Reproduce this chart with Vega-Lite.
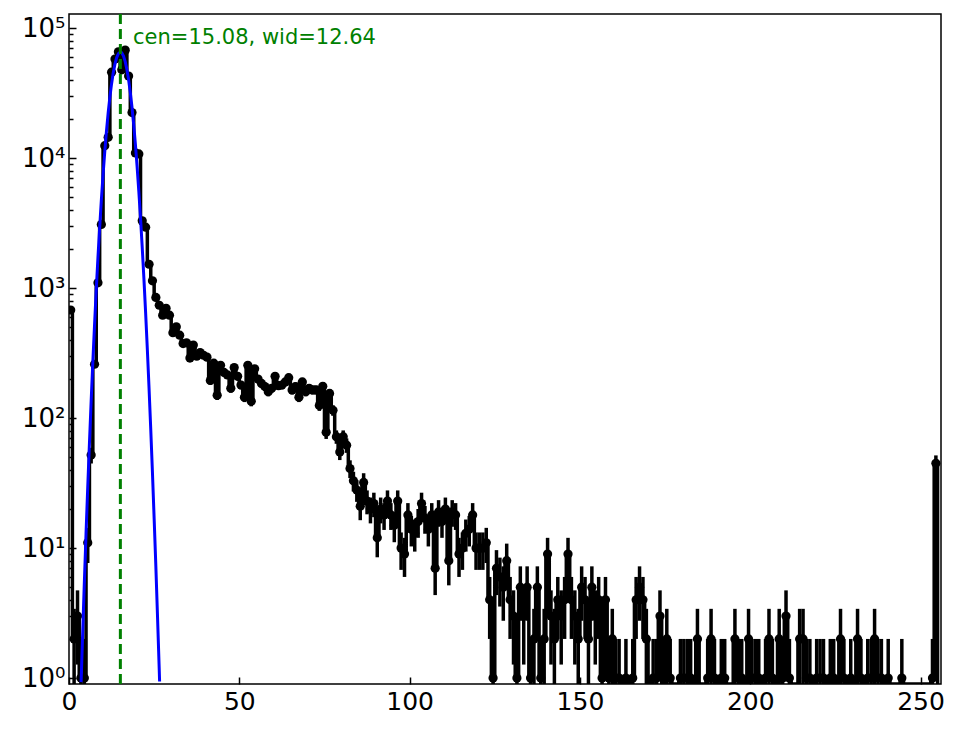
{
  "$schema": "https://vega.github.io/schema/vega-lite/v6.json",
  "width": 872,
  "height": 670,
  "autosize": {"type": "none"},
  "padding": {"left": 69, "top": 14, "right": 23, "bottom": 45},
  "background": "white",
  "datasets": {
    "hist": [
      {"x":0.5,"n":680,"lo":654,"hi":706},{"x":1.5,"n":2,"lo":0.59,"hi":3.41},{"x":2.5,"n":3,"lo":1.27,"hi":4.73},{"x":3.5,"n":1,"lo":0,"hi":2},
      {"x":4.5,"n":1,"lo":0,"hi":2},{"x":5.5,"n":11,"lo":7.68,"hi":14.32},{"x":6.5,"n":52,"lo":44.8,"hi":59.2},{"x":7.5,"n":260,"lo":244,"hi":276},
      {"x":8.5,"n":1100,"lo":1067,"hi":1133},{"x":9.5,"n":3100,"lo":3044,"hi":3156},{"x":10.5,"n":12500,"lo":12388,"hi":12612},{"x":11.5,"n":14500,"lo":14380,"hi":14620},
      {"x":12.5,"n":46000,"lo":45786,"hi":46214},{"x":13.5,"n":58000,"lo":57759,"hi":58241},{"x":14.5,"n":66000,"lo":65743,"hi":66257},{"x":15.5,"n":48000,"lo":47781,"hi":48219},
      {"x":16.5,"n":68000,"lo":67739,"hi":68261},{"x":17.5,"n":43000,"lo":42793,"hi":43207},{"x":18.5,"n":22500,"lo":22350,"hi":22650},{"x":19.5,"n":11000,"lo":10895,"hi":11105},
      {"x":20.5,"n":10800,"lo":10696,"hi":10904},{"x":21.5,"n":3300,"lo":3243,"hi":3357},{"x":22.5,"n":2950,"lo":2896,"hi":3004},{"x":23.5,"n":1530,"lo":1491,"hi":1569},
      {"x":24.5,"n":1140,"lo":1106,"hi":1174},{"x":25.5,"n":850,"lo":821,"hi":879},{"x":26.5,"n":740,"lo":713,"hi":767},{"x":27.5,"n":620,"lo":595,"hi":645},
      {"x":28.5,"n":700,"lo":674,"hi":726},{"x":29.5,"n":620,"lo":595,"hi":645},{"x":30.5,"n":455,"lo":434,"hi":476},{"x":31.5,"n":505,"lo":483,"hi":528},
      {"x":32.5,"n":435,"lo":414,"hi":456},{"x":33.5,"n":375,"lo":356,"hi":394},{"x":34.5,"n":380,"lo":361,"hi":400},{"x":35.5,"n":290,"lo":273,"hi":307},
      {"x":36.5,"n":365,"lo":346,"hi":384},{"x":37.5,"n":300,"lo":283,"hi":317},{"x":38.5,"n":320,"lo":302,"hi":338},{"x":39.5,"n":305,"lo":288,"hi":322},
      {"x":40.5,"n":295,"lo":278,"hi":312},{"x":41.5,"n":195,"lo":181,"hi":209},{"x":42.5,"n":265,"lo":249,"hi":281},{"x":43.5,"n":150,"lo":138,"hi":162},
      {"x":44.5,"n":255,"lo":239,"hi":271},{"x":45.5,"n":225,"lo":210,"hi":240},{"x":46.5,"n":215,"lo":200,"hi":230},{"x":47.5,"n":170,"lo":157,"hi":183},
      {"x":48.5,"n":245,"lo":229,"hi":261},{"x":49.5,"n":210,"lo":195.5,"hi":224.5},{"x":50.5,"n":180,"lo":166.6,"hi":193.4},{"x":51.5,"n":145,"lo":133,"hi":157},
      {"x":52.5,"n":255,"lo":239,"hi":271},{"x":53.5,"n":135,"lo":123.4,"hi":146.6},{"x":54.5,"n":240,"lo":224.5,"hi":255.5},{"x":55.5,"n":200,"lo":185.9,"hi":214.1},
      {"x":56.5,"n":185,"lo":171.4,"hi":198.6},{"x":57.5,"n":175,"lo":161.8,"hi":188.2},{"x":58.5,"n":160,"lo":147.4,"hi":172.6},{"x":59.5,"n":170,"lo":157,"hi":183},
      {"x":60.5,"n":210,"lo":195.5,"hi":224.5},{"x":61.5,"n":178,"lo":164.7,"hi":191.3},{"x":62.5,"n":180,"lo":166.6,"hi":193.4},{"x":63.5,"n":190,"lo":176.2,"hi":203.8},
      {"x":64.5,"n":205,"lo":190.7,"hi":219.3},{"x":65.5,"n":165,"lo":152.2,"hi":177.8},{"x":66.5,"n":175,"lo":161.8,"hi":188.2},{"x":67.5,"n":145,"lo":133,"hi":157},
      {"x":68.5,"n":190,"lo":176.2,"hi":203.8},{"x":69.5,"n":160,"lo":147.4,"hi":172.6},{"x":70.5,"n":170,"lo":157,"hi":183},{"x":71.5,"n":165,"lo":152.2,"hi":177.8},
      {"x":72.5,"n":165,"lo":152.2,"hi":177.8},{"x":73.5,"n":125,"lo":113.8,"hi":136.2},{"x":74.5,"n":176,"lo":162.7,"hi":189.3},{"x":75.5,"n":78,"lo":69.2,"hi":86.8},
      {"x":76.5,"n":155,"lo":142.6,"hi":167.4},{"x":77.5,"n":115,"lo":104.3,"hi":125.7},{"x":78.5,"n":72,"lo":63.5,"hi":80.5},{"x":79.5,"n":55,"lo":47.6,"hi":62.4},
      {"x":80.5,"n":72,"lo":63.5,"hi":80.5},{"x":81.5,"n":62,"lo":54.1,"hi":69.9},{"x":82.5,"n":41,"lo":34.6,"hi":47.4},{"x":83.5,"n":33,"lo":27.3,"hi":38.7},
      {"x":84.5,"n":28,"lo":22.7,"hi":33.3},{"x":85.5,"n":21,"lo":16.4,"hi":25.6},{"x":86.5,"n":32,"lo":26.3,"hi":37.7},{"x":87.5,"n":23,"lo":18.2,"hi":27.8},
      {"x":88.5,"n":20,"lo":15.5,"hi":24.5},{"x":89.5,"n":22,"lo":17.3,"hi":26.7},{"x":90.5,"n":12,"lo":8.5,"hi":15.5},{"x":91.5,"n":20,"lo":15.5,"hi":24.5},
      {"x":92.5,"n":18,"lo":13.8,"hi":22.2},{"x":93.5,"n":23,"lo":18.2,"hi":27.8},{"x":94.5,"n":18,"lo":13.8,"hi":22.2},{"x":95.5,"n":15,"lo":11.1,"hi":18.9},
      {"x":96.5,"n":23,"lo":18.2,"hi":27.8},{"x":97.5,"n":10,"lo":6.8,"hi":13.2},{"x":98.5,"n":9,"lo":6,"hi":12},{"x":99.5,"n":18,"lo":13.8,"hi":22.2},
      {"x":100.5,"n":14,"lo":10.3,"hi":17.7},{"x":101.5,"n":13,"lo":9.4,"hi":16.6},{"x":102.5,"n":16,"lo":12,"hi":20},{"x":103.5,"n":22,"lo":17.3,"hi":26.7},
      {"x":104.5,"n":17,"lo":12.9,"hi":21.1},{"x":105.5,"n":14,"lo":10.3,"hi":17.7},{"x":106.5,"n":18,"lo":13.8,"hi":22.2},{"x":107.5,"n":7,"lo":4.35,"hi":9.65},
      {"x":108.5,"n":19,"lo":14.6,"hi":23.4},{"x":109.5,"n":16,"lo":12,"hi":20},{"x":110.5,"n":20,"lo":15.5,"hi":24.5},{"x":111.5,"n":8,"lo":5.17,"hi":10.83},
      {"x":112.5,"n":19,"lo":14.6,"hi":23.4},{"x":113.5,"n":18,"lo":13.8,"hi":22.2},{"x":114.5,"n":9,"lo":6,"hi":12},{"x":115.5,"n":10,"lo":6.8,"hi":13.2},
      {"x":116.5,"n":13,"lo":9.4,"hi":16.6},{"x":117.5,"n":14,"lo":10.3,"hi":17.7},{"x":118.5,"n":18,"lo":13.8,"hi":22.2},{"x":119.5,"n":10,"lo":6.8,"hi":13.2},
      {"x":120.5,"n":10,"lo":6.8,"hi":13.2},{"x":121.5,"n":10,"lo":6.8,"hi":13.2},{"x":122.5,"n":11,"lo":7.68,"hi":14.32},{"x":123.5,"n":4,"lo":2,"hi":6},
      {"x":124.5,"n":1,"lo":0,"hi":2},{"x":125.5,"n":7,"lo":4.35,"hi":9.65},{"x":126.5,"n":6,"lo":3.55,"hi":8.45},{"x":127.5,"n":5,"lo":2.76,"hi":7.24},
      {"x":128.5,"n":8,"lo":5.17,"hi":10.83},{"x":129.5,"n":4,"lo":2,"hi":6},{"x":130.5,"n":3,"lo":1.27,"hi":4.73},{"x":131.5,"n":1,"lo":0,"hi":2},
      {"x":132.5,"n":5,"lo":2.76,"hi":7.24},{"x":133.5,"n":3,"lo":1.27,"hi":4.73},{"x":134.5,"n":5,"lo":2.76,"hi":7.24},{"x":135.5,"n":1,"lo":0,"hi":2},
      {"x":136.5,"n":2,"lo":0.59,"hi":3.41},{"x":137.5,"n":5,"lo":2.76,"hi":7.24},{"x":138.5,"n":1,"lo":0,"hi":2},{"x":139.5,"n":2,"lo":0.59,"hi":3.41},
      {"x":140.5,"n":9,"lo":6,"hi":12},{"x":141.5,"n":3,"lo":1.27,"hi":4.73},{"x":142.5,"n":2,"lo":0.59,"hi":3.41},{"x":143.5,"n":4,"lo":2,"hi":6},
      {"x":144.5,"n":3,"lo":1.27,"hi":4.73},{"x":145.5,"n":4,"lo":2,"hi":6},{"x":146.5,"n":9,"lo":6,"hi":12},{"x":147.5,"n":4,"lo":2,"hi":6},
      {"x":148.5,"n":3,"lo":1.27,"hi":4.73},{"x":149.5,"n":2,"lo":0.59,"hi":3.41},{"x":150.5,"n":5,"lo":2.76,"hi":7.24},{"x":151.5,"n":4,"lo":2,"hi":6},
      {"x":152.5,"n":2,"lo":0.59,"hi":3.41},{"x":153.5,"n":5,"lo":2.76,"hi":7.24},{"x":154.5,"n":3,"lo":1.27,"hi":4.73},{"x":155.5,"n":4,"lo":2,"hi":6},
      {"x":156.5,"n":1,"lo":0,"hi":2},{"x":157.5,"n":4,"lo":2,"hi":6},{"x":158.5,"n":1,"lo":0,"hi":2},{"x":159.5,"n":2,"lo":0.59,"hi":3.41},
      {"x":160.5,"n":1,"lo":0,"hi":2},{"x":161.5,"n":1,"lo":0,"hi":2},{"x":162.5,"n":0},{"x":163.5,"n":1,"lo":0,"hi":2},
      {"x":164.5,"n":0},{"x":165.5,"n":1,"lo":0,"hi":2},{"x":166.5,"n":4,"lo":2,"hi":6},{"x":167.5,"n":5,"lo":2.76,"hi":7.24},
      {"x":168.5,"n":4,"lo":2,"hi":6},{"x":169.5,"n":2,"lo":0.59,"hi":3.41},{"x":170.5,"n":0},{"x":171.5,"n":1,"lo":0,"hi":2},
      {"x":172.5,"n":1,"lo":0,"hi":2},{"x":173.5,"n":3,"lo":1.27,"hi":4.73},{"x":174.5,"n":0},{"x":175.5,"n":2,"lo":0.59,"hi":3.41},
      {"x":176.5,"n":1,"lo":0,"hi":2},{"x":177.5,"n":0},{"x":178.5,"n":0},{"x":179.5,"n":1,"lo":0,"hi":2},
      {"x":180.5,"n":1,"lo":0,"hi":2},{"x":181.5,"n":1,"lo":0,"hi":2},{"x":182.5,"n":1,"lo":0,"hi":2},{"x":183.5,"n":0},
      {"x":184.5,"n":2,"lo":0.59,"hi":3.41},{"x":185.5,"n":0},{"x":186.5,"n":0},{"x":187.5,"n":1,"lo":0,"hi":2},
      {"x":188.5,"n":2,"lo":0.59,"hi":3.41},{"x":189.5,"n":1,"lo":0,"hi":2},{"x":190.5,"n":0},{"x":191.5,"n":1,"lo":0,"hi":2},
      {"x":192.5,"n":1,"lo":0,"hi":2},{"x":193.5,"n":0},{"x":194.5,"n":0},{"x":195.5,"n":2,"lo":0.59,"hi":3.41},
      {"x":196.5,"n":1,"lo":0,"hi":2},{"x":197.5,"n":1,"lo":0,"hi":2},{"x":198.5,"n":0},{"x":199.5,"n":2,"lo":0.59,"hi":3.41},
      {"x":200.5,"n":1,"lo":0,"hi":2},{"x":201.5,"n":1,"lo":0,"hi":2},{"x":202.5,"n":1,"lo":0,"hi":2},{"x":203.5,"n":0},
      {"x":204.5,"n":1,"lo":0,"hi":2},{"x":205.5,"n":2,"lo":0.59,"hi":3.41},{"x":206.5,"n":1,"lo":0,"hi":2},{"x":207.5,"n":0},
      {"x":208.5,"n":2,"lo":0.59,"hi":3.41},{"x":209.5,"n":1,"lo":0,"hi":2},{"x":210.5,"n":3,"lo":1.27,"hi":4.73},{"x":211.5,"n":1,"lo":0,"hi":2},
      {"x":212.5,"n":0},{"x":213.5,"n":0},{"x":214.5,"n":2,"lo":0.59,"hi":3.41},{"x":215.5,"n":2,"lo":0.59,"hi":3.41},
      {"x":216.5,"n":1,"lo":0,"hi":2},{"x":217.5,"n":1,"lo":0,"hi":2},{"x":218.5,"n":0},{"x":219.5,"n":1,"lo":0,"hi":2},
      {"x":220.5,"n":1,"lo":0,"hi":2},{"x":221.5,"n":1,"lo":0,"hi":2},{"x":222.5,"n":0},{"x":223.5,"n":1,"lo":0,"hi":2},
      {"x":224.5,"n":1,"lo":0,"hi":2},{"x":225.5,"n":0},{"x":226.5,"n":2,"lo":0.59,"hi":3.41},{"x":227.5,"n":1,"lo":0,"hi":2},
      {"x":228.5,"n":0},{"x":229.5,"n":1,"lo":0,"hi":2},{"x":230.5,"n":0},{"x":231.5,"n":2,"lo":0.59,"hi":3.41},
      {"x":232.5,"n":1,"lo":0,"hi":2},{"x":233.5,"n":0},{"x":234.5,"n":1,"lo":0,"hi":2},{"x":235.5,"n":1,"lo":0,"hi":2},
      {"x":236.5,"n":2,"lo":0.59,"hi":3.41},{"x":237.5,"n":1,"lo":0,"hi":2},{"x":238.5,"n":1,"lo":0,"hi":2},{"x":239.5,"n":0},
      {"x":240.5,"n":1,"lo":0,"hi":2},{"x":241.5,"n":0},{"x":242.5,"n":0},{"x":243.5,"n":0},
      {"x":244.5,"n":1,"lo":0,"hi":2},{"x":245.5,"n":0},{"x":246.5,"n":0},{"x":247.5,"n":0},
      {"x":248.5,"n":0},{"x":249.5,"n":0},{"x":250.5,"n":0},{"x":251.5,"n":0},
      {"x":252.5,"n":0},{"x":253.5,"n":1,"lo":0,"hi":2},{"x":254.5,"n":45,"lo":38.3,"hi":51.7},{"x":255.5,"n":0}
    ],
    "fit": [
      {"x":3.55,"y":0.93},{"x":4,"y":2.16},{"x":4.5,"y":5.4},{"x":5,"y":12.9},{"x":5.5,"y":29.4},{"x":6,"y":64},
      {"x":6.5,"y":135},{"x":7,"y":271},{"x":7.5,"y":524},{"x":8,"y":976},{"x":8.5,"y":1725},{"x":9,"y":2930},
      {"x":9.5,"y":4790},{"x":10,"y":7500},{"x":10.5,"y":11270},{"x":11,"y":16210},{"x":11.5,"y":22380},{"x":12,"y":29600},
      {"x":12.5,"y":37530},{"x":13,"y":45660},{"x":13.5,"y":53260},{"x":14,"y":59570},{"x":14.5,"y":63870},{"x":15.08,"y":65700},
      {"x":15.5,"y":64730},{"x":16,"y":61190},{"x":16.5,"y":55460},{"x":17,"y":48200},{"x":17.5,"y":40160},{"x":18,"y":32090},
      {"x":18.5,"y":24590},{"x":19,"y":18070},{"x":19.5,"y":12720},{"x":20,"y":8590},{"x":20.5,"y":5560},{"x":21,"y":3460},
      {"x":21.5,"y":2057},{"x":22,"y":1175},{"x":22.5,"y":643},{"x":23,"y":338},{"x":23.5,"y":170},{"x":24,"y":82},
      {"x":24.5,"y":38},{"x":25,"y":16.8},{"x":25.5,"y":7.2},{"x":26,"y":2.9},{"x":26.5,"y":1.14},{"x":26.6,"y":0.94}
    ]
  },
  "layer": [
    {
      "data": {"name": "hist"},
      "mark": {"type": "line", "interpolate": "step", "color": "black", "strokeWidth": 3.5, "clip": true, "invalid": "show"},
      "encoding": {
        "x": {
          "field": "x", "type": "quantitative",
          "scale": {"domain": [0, 256], "nice": false, "zero": false},
          "axis": {
            "title": null, "domain": false, "grid": false,
            "values": [0, 50, 100, 150, 200, 250],
            "tickSize": -7, "tickWidth": 1.5, "tickColor": "black",
            "labelPadding": 12, "labelFontSize": 25, "labelColor": "black",
            "labelFont": "DejaVu Sans", "labelFlush": false, "labelOverlap": false
          }
        },
        "y": {
          "field": "n", "type": "quantitative",
          "scale": {"type": "log", "domain": [0.9, 129000], "clamp": true, "nice": false},
          "axis": {
            "title": null, "domain": false, "grid": false,
            "values": [1,2,3,4,5,6,7,8,9,10,20,30,40,50,60,70,80,90,100,200,300,400,500,600,700,800,900,1000,2000,3000,4000,5000,6000,7000,8000,9000,10000,20000,30000,40000,50000,60000,70000,80000,90000,100000],
            "labelExpr": "datum.value == 1 ? '10⁰' : datum.value == 10 ? '10¹' : datum.value == 100 ? '10²' : datum.value == 1000 ? '10³' : datum.value == 10000 ? '10⁴' : datum.value == 100000 ? '10⁵' : ''",
            "tickSize": {"condition": {"test": "indexof([1,10,100,1000,10000,100000], datum.value) >= 0", "value": -7}, "value": -4},
            "tickWidth": 1.5, "tickColor": "black",
            "labelPadding": 11, "labelFontSize": 26, "labelColor": "black",
            "labelFont": "DejaVu Sans", "labelOverlap": false, "labelFlush": false
          }
        }
      }
    },
    {
      "data": {"name": "hist"},
      "transform": [{"filter": "datum.n > 0"}],
      "mark": {"type": "rule", "color": "black", "strokeWidth": 3.5, "clip": true},
      "encoding": {
        "x": {"field": "x", "type": "quantitative"},
        "y": {"field": "lo", "type": "quantitative"},
        "y2": {"field": "hi"}
      }
    },
    {
      "data": {"name": "hist"},
      "transform": [{"filter": "datum.n > 0"}],
      "mark": {"type": "circle", "color": "black", "opacity": 1, "size": 85, "clip": true},
      "encoding": {
        "x": {"field": "x", "type": "quantitative"},
        "y": {"field": "n", "type": "quantitative"}
      }
    },
    {
      "data": {"name": "fit"},
      "mark": {"type": "line", "color": "#0000ff", "strokeWidth": 3, "clip": true},
      "encoding": {
        "x": {"field": "x", "type": "quantitative"},
        "y": {"field": "y", "type": "quantitative"}
      }
    },
    {
      "data": {"values": [{"cen": 15.08}]},
      "mark": {"type": "rule", "color": "#008000", "strokeWidth": 3, "strokeDash": [10, 5]},
      "encoding": {
        "x": {"field": "cen", "type": "quantitative"}
      }
    },
    {
      "data": {"values": [{"x": 18.8, "y": 84000, "text": "cen=15.08, wid=12.64"}]},
      "mark": {"type": "text", "color": "#008000", "fontSize": 21, "font": "DejaVu Sans", "align": "left", "baseline": "middle"},
      "encoding": {
        "x": {"field": "x", "type": "quantitative"},
        "y": {"field": "y", "type": "quantitative"},
        "text": {"field": "text"}
      }
    }
  ],
  "config": {
    "view": {"stroke": "black", "strokeWidth": 1.5},
    "font": "DejaVu Sans"
  }
}
